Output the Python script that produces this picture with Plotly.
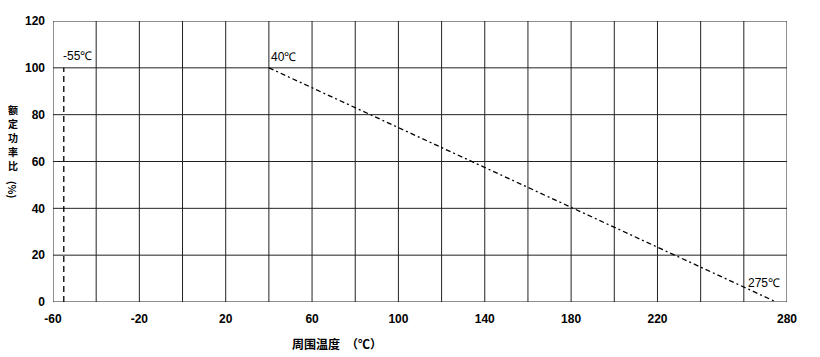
import plotly.graph_objects as go

# Data
low_temp_x = [-55, -55]
low_temp_y = [0, 100]
derate_x = [40, 275]
derate_y = [100, 0]
x_tickvals = [-60, -20, 20, 60, 100, 140, 180, 220, 280]
x_ticktext = ["-60", "-20", "20", "60", "100", "140", "180", "220", "280"]
y_tickvals = [0, 20, 40, 60, 80, 100, 120]
y_title_chars = ["额", "定", "功", "率", "比"]

FONT = "Liberation Sans, Arial, sans-serif"
CJK = "Noto Sans CJK SC, sans-serif"

L, R, T, B = 53, 787, 21, 302
W, H = R - L, B - T


def px(xp):
    return (xp - L) / W


def py(yp):
    return (B - yp) / H


fig = go.Figure()
fig.add_trace(go.Scatter(x=low_temp_x, y=low_temp_y, mode="lines",
                         line=dict(color="black", width=1.3, dash="6px,4px"),
                         showlegend=False, hoverinfo="skip"))
fig.add_trace(go.Scatter(x=derate_x, y=derate_y, mode="lines",
                         line=dict(color="black", width=1.3, dash="5px,3px,2px,3px"),
                         showlegend=False, hoverinfo="skip"))

grid_vals = list(range(-60, 281, 20))
for gx in grid_vals:
    fig.add_shape(type="line", x0=gx, x1=gx, y0=0, y1=120, xref="x", yref="y",
                  line=dict(color="#222", width=1), layer="below")
for gy in y_tickvals:
    fig.add_shape(type="line", x0=-60, x1=280, y0=gy, y1=gy, xref="x", yref="y",
                  line=dict(color="#222", width=1), layer="below")

fig.update_xaxes(range=[-60, 280], tickvals=x_tickvals, ticktext=x_ticktext,
                 showgrid=False, zeroline=False, showline=False, ticks="",
                 ticklabelstandoff=8,
                 tickfont=dict(family=FONT, size=12, color="black", weight="bold"))
fig.update_yaxes(range=[0, 120], tickvals=y_tickvals, showgrid=False, zeroline=False,
                 showline=False, ticks="", ticklabelstandoff=7,
                 tickfont=dict(family=FONT, size=12, color="black", weight="bold"))

fig.add_annotation(x=-55, y=100, text="-55℃", xanchor="left", yanchor="bottom",
                   xshift=-3, yshift=3, showarrow=False,
                   font=dict(family=FONT, size=12, color="black"))
fig.add_annotation(x=40, y=100, text="40℃", xanchor="left", yanchor="bottom",
                   xshift=0, yshift=2, showarrow=False,
                   font=dict(family=FONT, size=12, color="black"))
fig.add_annotation(x=275, y=0, text="275℃", xanchor="right", yanchor="bottom",
                   xshift=6, yshift=10, showarrow=False,
                   font=dict(family=FONT, size=12, color="black"))

fig.add_annotation(text="周围温度　（℃）", x=px(337), y=py(343), xref="paper", yref="paper",
                   showarrow=False, xanchor="center", yanchor="middle",
                   font=dict(family=CJK, size=12, color="black", weight="bold"))

char_centers = [109, 123, 137, 151, 165]
for ch, cy in zip(y_title_chars, char_centers):
    fig.add_annotation(text=ch, x=px(13), y=py(cy), xref="paper", yref="paper",
                       showarrow=False, xanchor="center", yanchor="middle", borderpad=0,
                       font=dict(family=CJK, size=10, color="black", weight="bold"))
fig.add_annotation(text="(%)", x=px(13), y=py(189), textangle=90, borderpad=0,
                   xref="paper", yref="paper", showarrow=False, xanchor="center", yanchor="middle",
                   font=dict(family=CJK, size=10, color="black", weight="bold"))

fig.update_layout(width=820, height=357, margin=dict(l=L, r=820 - R, t=T, b=357 - B),
                  paper_bgcolor="white", plot_bgcolor="white")
fig.write_html("out.html")
